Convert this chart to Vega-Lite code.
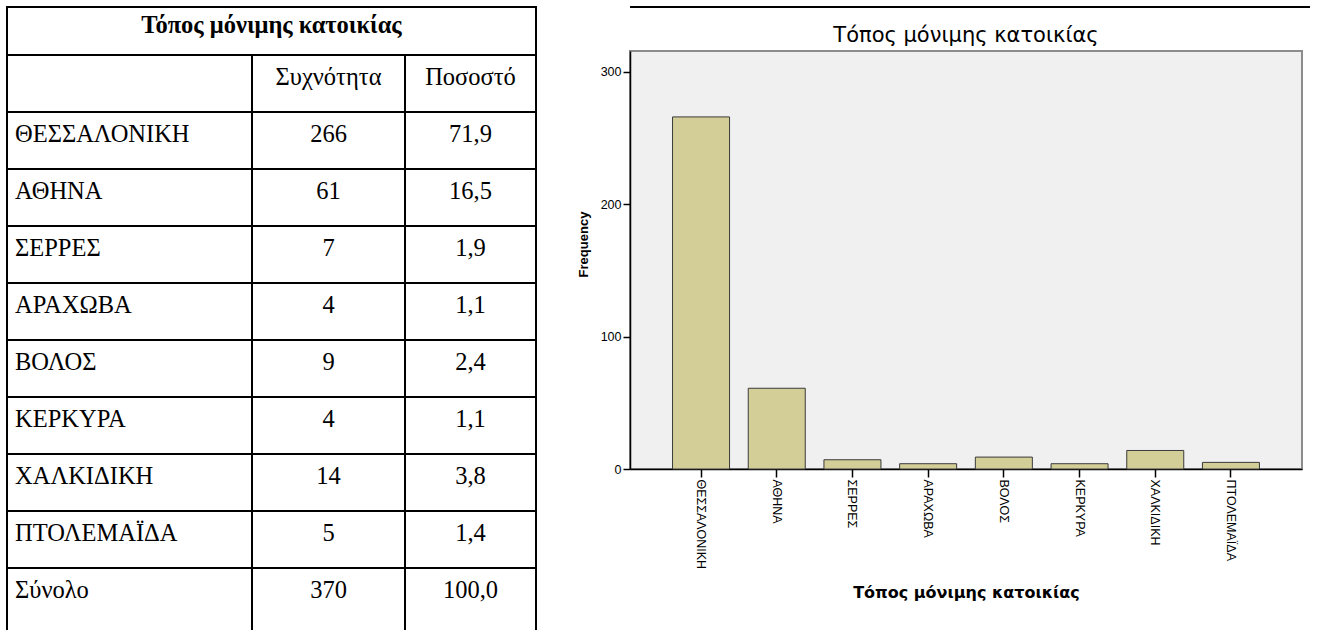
{
  "$schema": "https://vega.github.io/schema/vega-lite/v6.json",
  "padding": {"left": 6, "top": 6, "right": 0, "bottom": 0},
  "background": "white",
  "config": {"view": {"stroke": null}, "font": "Liberation Sans"},
  "datasets": {
    "places": [
      {"place": "ΘΕΣΣΑΛΟΝΙΚΗ", "freq": 266},
      {"place": "ΑΘΗΝΑ", "freq": 61},
      {"place": "ΣΕΡΡΕΣ", "freq": 7},
      {"place": "ΑΡΑΧΩΒΑ", "freq": 4},
      {"place": "ΒΟΛΟΣ", "freq": 9},
      {"place": "ΚΕΡΚΥΡΑ", "freq": 4},
      {"place": "ΧΑΛΚΙΔΙΚΗ", "freq": 14},
      {"place": "ΠΤΟΛΕΜΑΪΔΑ", "freq": 5}
    ],
    "table": [
      {"row": "header", "c1": "", "c2": "Συχνότητα", "c3": "Ποσοστό"},
      {"row": "ΘΕΣΣΑΛΟΝΙΚΗ", "c1": "ΘΕΣΣΑΛΟΝΙΚΗ", "c2": "266", "c3": "71,9"},
      {"row": "ΑΘΗΝΑ", "c1": "ΑΘΗΝΑ", "c2": "61", "c3": "16,5"},
      {"row": "ΣΕΡΡΕΣ", "c1": "ΣΕΡΡΕΣ", "c2": "7", "c3": "1,9"},
      {"row": "ΑΡΑΧΩΒΑ", "c1": "ΑΡΑΧΩΒΑ", "c2": "4", "c3": "1,1"},
      {"row": "ΒΟΛΟΣ", "c1": "ΒΟΛΟΣ", "c2": "9", "c3": "2,4"},
      {"row": "ΚΕΡΚΥΡΑ", "c1": "ΚΕΡΚΥΡΑ", "c2": "4", "c3": "1,1"},
      {"row": "ΧΑΛΚΙΔΙΚΗ", "c1": "ΧΑΛΚΙΔΙΚΗ", "c2": "14", "c3": "3,8"},
      {"row": "ΠΤΟΛΕΜΑΪΔΑ", "c1": "ΠΤΟΛΕΜΑΪΔΑ", "c2": "5", "c3": "1,4"},
      {"row": "Σύνολο", "c1": "Σύνολο", "c2": "370", "c3": "100,0"}
    ]
  },
  "spacing": 39,
  "hconcat": [
    {
      "spacing": 0,
      "bounds": "flush",
      "vconcat": [
        {
          "width": 529,
          "height": 48,
          "view": {"stroke": "black", "strokeWidth": 2},
          "data": {"values": [{"t": "Τόπος μόνιμης κατοικίας"}]},
          "mark": {"type": "text", "font": "Liberation Serif", "fontSize": 24.5, "fontWeight": "bold", "baseline": "alphabetic", "dy": 2, "color": "black"},
          "encoding": {"text": {"field": "t"}}
        },
        {
          "spacing": 0,
          "bounds": "flush",
          "hconcat": [
            {
              "width": 245,
              "height": 575,
              "data": {"name": "table"},
              "layer": [
                {
                  "mark": {"type": "rule", "color": "black", "strokeWidth": 2},
                  "encoding": {"y": {"field": "row", "type": "nominal", "sort": null, "bandPosition": 0, "axis": null, "scale": {"type": "band", "paddingInner": 0, "paddingOuter": 0.0439, "align": 0}}}
                },
                {
                  "data": {"values": [{}]},
                  "mark": {"type": "rule", "color": "black", "strokeWidth": 2},
                  "encoding": {"x": {"value": 0}}
                },
                {
                  "mark": {"type": "text", "align": "left", "dx": 8, "dy": 1.5, "baseline": "alphabetic", "font": "Liberation Serif", "fontSize": 24.5, "color": "black"},
                  "encoding": {
                    "x": {"value": 0},
                    "y": {"field": "row", "type": "nominal", "sort": null, "axis": null, "scale": {"type": "band", "paddingInner": 0, "paddingOuter": 0.0439, "align": 0}},
                    "text": {"field": "c1"}
                  }
                }
              ]
            },
            {
              "width": 153,
              "height": 575,
              "data": {"name": "table"},
              "layer": [
                {
                  "mark": {"type": "rule", "color": "black", "strokeWidth": 2},
                  "encoding": {"y": {"field": "row", "type": "nominal", "sort": null, "bandPosition": 0, "axis": null, "scale": {"type": "band", "paddingInner": 0, "paddingOuter": 0.0439, "align": 0}}}
                },
                {
                  "data": {"values": [{}]},
                  "mark": {"type": "rule", "color": "black", "strokeWidth": 2},
                  "encoding": {"x": {"value": 0}}
                },
                {
                  "mark": {"type": "text", "align": "center", "dy": 1.5, "baseline": "alphabetic", "font": "Liberation Serif", "fontSize": 24.5, "color": "black"},
                  "encoding": {
                    "y": {"field": "row", "type": "nominal", "sort": null, "axis": null, "scale": {"type": "band", "paddingInner": 0, "paddingOuter": 0.0439, "align": 0}},
                    "text": {"field": "c2"}
                  }
                }
              ]
            },
            {
              "width": 131,
              "height": 575,
              "data": {"name": "table"},
              "layer": [
                {
                  "mark": {"type": "rule", "color": "black", "strokeWidth": 2},
                  "encoding": {"y": {"field": "row", "type": "nominal", "sort": null, "bandPosition": 0, "axis": null, "scale": {"type": "band", "paddingInner": 0, "paddingOuter": 0.0439, "align": 0}}}
                },
                {
                  "data": {"values": [{}]},
                  "mark": {"type": "rule", "color": "black", "strokeWidth": 2},
                  "encoding": {"x": {"value": 0}}
                },
                {
                  "data": {"values": [{}]},
                  "mark": {"type": "rule", "color": "black", "strokeWidth": 2},
                  "encoding": {"x": {"value": "width"}}
                },
                {
                  "mark": {"type": "text", "align": "center", "dy": 1.5, "baseline": "alphabetic", "font": "Liberation Serif", "fontSize": 24.5, "color": "black"},
                  "encoding": {
                    "y": {"field": "row", "type": "nominal", "sort": null, "axis": null, "scale": {"type": "band", "paddingInner": 0, "paddingOuter": 0.0439, "align": 0}},
                    "text": {"field": "c3"}
                  }
                }
              ]
            }
          ]
        }
      ]
    },
    {
      "spacing": 0,
      "bounds": "flush",
      "vconcat": [
        {
          "width": 680,
          "height": 44,
          "data": {"values": [{}]},
          "mark": {"type": "rule", "color": "black", "strokeWidth": 2},
          "encoding": {"y": {"value": 0}}
        },
        {
          "width": 672,
          "height": 418,
          "data": {"name": "places"},
          "title": {"text": "Τόπος μόνιμης κατοικίας", "font": "DejaVu Sans", "fontSize": 21, "fontWeight": "normal", "color": "black", "baseline": "alphabetic", "offset": -12, "anchor": "middle"},
          "view": {"fill": "#F0F0F0", "stroke": "#8c8c8c", "strokeWidth": 2},
          "mark": {"type": "bar", "fill": "#D3CE97", "stroke": "#3a3a3a", "strokeWidth": 1},
          "encoding": {
            "x": {
              "field": "place", "type": "nominal", "sort": null,
              "scale": {"paddingInner": 0.247, "paddingOuter": 0.562},
              "axis": {"title": "Τόπος μόνιμης κατοικίας", "titleFont": "DejaVu Sans", "titleFontSize": 16, "titleFontWeight": "bold", "titleColor": "black", "titlePadding": 16, "labelAngle": 90, "labelAlign": "left", "labelBaseline": "middle", "labelFont": "Liberation Sans", "labelFontSize": 12.5, "labelColor": "black", "labelPadding": 2, "labelOverlap": false, "labelLimit": 300, "tickSize": 8, "tickColor": "black", "tickWidth": 1.5, "domainColor": "black", "domainWidth": 1.5}
            },
            "y": {
              "field": "freq", "type": "quantitative",
              "scale": {"domain": [0, 315.8], "nice": false},
              "axis": {"title": "Frequency", "titleFont": "Liberation Sans", "titleFontSize": 13, "titleFontWeight": "bold", "titleColor": "black", "titlePadding": 10, "titleY": 193, "values": [0, 100, 200, 300], "labelFont": "Liberation Sans", "labelFontSize": 12.5, "labelColor": "black", "labelPadding": 2, "tickSize": 7, "tickColor": "black", "tickWidth": 1.5, "domainColor": "black", "domainWidth": 1.5, "grid": false}
            }
          }
        }
      ]
    }
  ]
}
